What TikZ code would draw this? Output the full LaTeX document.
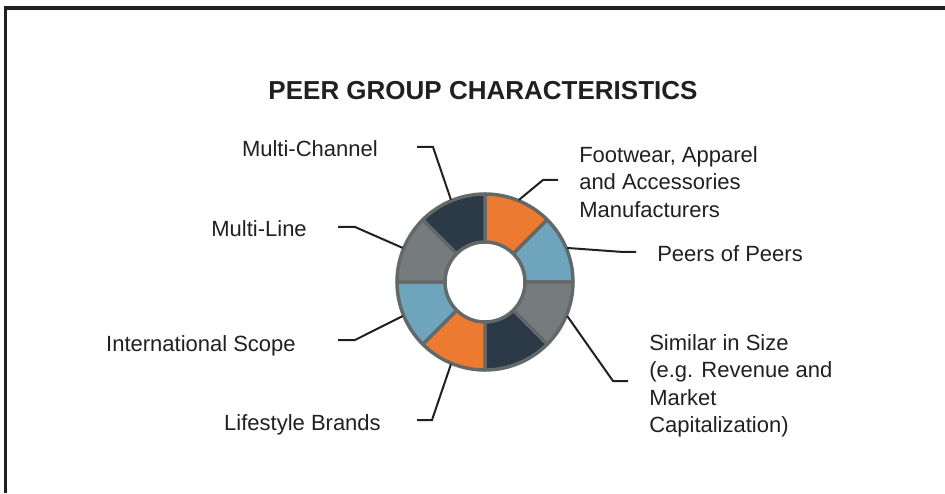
\documentclass[tikz,border=0pt]{standalone}
\usepackage{fontspec}
\setmainfont{Liberation Sans}
\usetikzlibrary{calc}

\definecolor{segdark}{HTML}{2B3A46}
\definecolor{segorange}{HTML}{EC7A30}
\definecolor{segblue}{HTML}{6EA4BC}
\definecolor{seggray}{HTML}{767B7E}
\definecolor{rimgray}{HTML}{636969}
\definecolor{inkgray}{HTML}{231F20}

\begin{document}
\begin{tikzpicture}[
        x=0.75pt, y=0.75pt,
        seg/.style={draw=rimgray, line width=2.6pt, line join=round},
        lead/.style={draw=inkgray, line width=1.5pt},
        lbl/.style={inner sep=0pt, text=inkgray, align=left,
            font=\fontsize{16.5}{20.6}\selectfont},
    ]
    \useasboundingbox (0,0) rectangle (945,493);
    \draw[line width=2.6pt, inkgray] (5.5,0) -- (5.5,485) -- (945,485);

    \def\cx{485}
    \def\cy{211}
    \def\ro{88}
    \def\ri{40}
    \coordinate (o) at (\cx,\cy);

    % ring of eight sectors, clockwise from the top
    \foreach \a/\c in {90/segorange, 45/segblue, 0/seggray, -45/segdark,
        -90/segorange, -135/segblue, 180/seggray, 135/segdark}{
        \draw[seg, fill=\c] ($(o)+(\a:\ro)$) arc (\a:\a-45:\ro)
            -- ($(o)+(\a-45:\ri)$) arc (\a-45:\a:\ri) -- cycle;
    }

    \node[anchor=base, text=inkgray, font=\bfseries\fontsize{19.5}{23}\selectfont]
        (title) at (483,393) {PEER GROUP CHARACTERISTICS};

    \node[lbl, anchor=base east] (mchan) at (378,336) {Multi-Channel};
    \node[lbl, anchor=base east] (mline) at (307,256) {Multi-Line};
    \node[lbl, anchor=base east] (intl) at (296,142) {International Scope};
    \node[lbl, anchor=base east] (life) at (381,63) {Lifestyle Brands};
    \node[lbl, anchor=north west] (foot) at (579,347)
        {Footwear, Apparel\\and Accessories\\Manufacturers};
    \node[lbl, anchor=base west] (peers) at (657,231) {Peers of Peers};
    \node[lbl, anchor=north west] (size) at (649,159)
        {Similar in Size\\(e.g. Revenue and\\Market\\Capitalization)};

    % leader lines: angle on the ring, knee, free end
    \foreach \n/\a/\kx/\ky/\ex in {mchan/112.5/433/346/417, foot/67.5/543/313/558,
        mline/157.5/355/266/338, intl/202.5/355/153/338, life/247.5/432/73/417,
        peers/22.5/623/241/636, size/337.5/613/112/628}{
        \coordinate (\n-r) at ($(o)+(\a:89)$);
        \coordinate (\n-k) at (\kx,\ky);
        \coordinate (\n-e) at (\ex,\ky);
        \draw[lead] (\n-r) -- (\n-k) -- (\n-e);
    }
\end{tikzpicture}
\end{document}
